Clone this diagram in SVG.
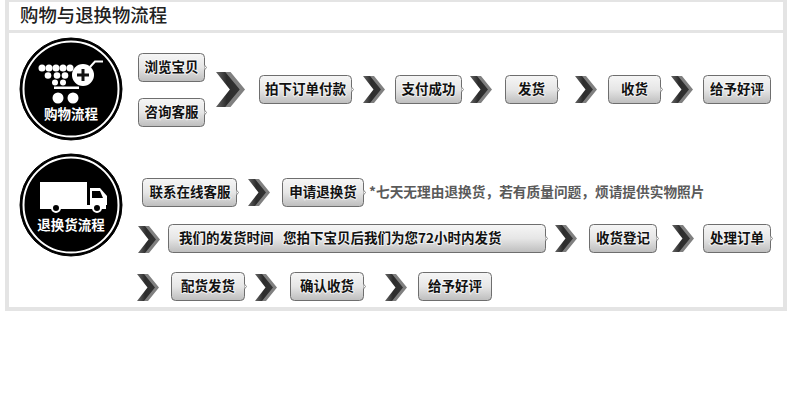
<svg xmlns="http://www.w3.org/2000/svg" xmlns:xlink="http://www.w3.org/1999/xlink" width="790" height="418" viewBox="0 0 790 418">
<style>
text{font-family:"Noto Sans CJK SC","Liberation Sans",sans-serif}
.btn{fill:url(#bg);stroke:#6e6e6e;stroke-width:1}
.tip{fill:#fff;stroke:#8a8a8a;stroke-width:1}
.lb{font-size:13.5px;font-weight:700;fill:#111;text-anchor:middle;paint-order:stroke;stroke:#fff;stroke-opacity:.55;stroke-width:2px}
.wh{font-size:13.5px;font-weight:700;fill:#fff;text-anchor:middle}
.note{font-size:13.7px;font-weight:700;fill:#5a5a5a}
.title{font-size:18.4px;font-weight:500;fill:#222}
</style>
<defs>
<linearGradient id="bg" x1="0" y1="0" x2="0" y2="1"><stop offset="0" stop-color="#f6f6f6"/><stop offset=".5" stop-color="#e6e6e6"/><stop offset="1" stop-color="#bdbdbd"/></linearGradient>
<linearGradient id="cg" x1="0" y1="0" x2="1" y2="0"><stop offset="0" stop-color="#666"/><stop offset=".45" stop-color="#2c2c2c"/><stop offset="1" stop-color="#333"/></linearGradient>
<g id="chev">
<polygon points="3,0 11,0 22,13.5 11,27 3,27 13.5,13.5" fill="#808080"/>
<polygon points="0,0 7,0 18,13.5 7,27 0,27 10.5,13.5" fill="url(#cg)"/>
</g>
</defs>
<rect width="790" height="418" fill="#fff"/>
<rect x="5" y="0" width="782" height="311" fill="#e4e4e4"/>
<rect x="9" y="2" width="774" height="28" fill="#fff"/>
<rect x="9" y="33" width="774" height="274" fill="#fff"/>
<text class="title" x="20" y="22">购物与退换物流程</text>

<g id="connectors">
<use xlink:href="#chev" href="#chev" transform="translate(216,72) scale(1.32,1.3)"/>
<use href="#chev" x="363" y="76"/>
<use href="#chev" x="470" y="76"/>
<use href="#chev" x="575" y="76"/>
<use href="#chev" x="671" y="76"/>
<use href="#chev" x="248" y="179"/>
<use href="#chev" x="138" y="226"/>
<use href="#chev" x="555" y="225"/>
<use href="#chev" x="672" y="225"/>
<use href="#chev" x="137" y="274"/>
<use href="#chev" x="255" y="274"/>
<use href="#chev" x="385" y="274"/>
</g>

<g id="shop-circle">
<circle cx="71" cy="89" r="51" fill="#000" stroke="#000" stroke-width="1"/>
<circle cx="71" cy="89" r="47.500" fill="none" stroke="#fff" stroke-width="2"/>
<g fill="#fff">
<circle cx="42" cy="68" r="3.500"/><circle cx="49" cy="68" r="3.500"/><circle cx="56" cy="68" r="3.500"/><circle cx="63" cy="68" r="3.500"/><circle cx="70" cy="68" r="3.500"/>
<circle cx="48" cy="75.500" r="3.300"/><circle cx="57" cy="75.500" r="3.300"/><circle cx="65" cy="75.500" r="3.300"/>
<circle cx="55" cy="82.500" r="3"/><circle cx="63" cy="82.500" r="3"/>
<rect x="54" y="86.500" width="25" height="2.500"/>
<circle cx="58" cy="98" r="5.500"/><circle cx="73" cy="98" r="5.500"/>
<circle cx="83" cy="75" r="11"/>
</g>
<path d="M90 67L95 61.500H103" fill="none" stroke="#fff" stroke-width="2"/>
<path d="M77 75H89M83 69V81" stroke="#111" stroke-width="3"/>
<text class="wh" x="71" y="119">购物流程</text>
</g>

<g id="return-circle">
<circle cx="71" cy="205" r="51" fill="#000" stroke="#000" stroke-width="1"/>
<circle cx="71" cy="205" r="47.500" fill="none" stroke="#fff" stroke-width="2"/>
<rect x="40" y="182" width="47" height="23" fill="#fff"/>
<rect x="40" y="205" width="66" height="4" fill="#fff"/>
<path d="M90 188H100L107 196V205H90Z" fill="#fff"/>
<path d="M92 191H100L103 198H92Z" fill="#000"/>
<circle cx="56" cy="208" r="4" fill="#000" stroke="#fff" stroke-width="2"/>
<circle cx="97" cy="208" r="4" fill="#000" stroke="#fff" stroke-width="2"/>
<text class="wh" x="71" y="230">退换货流程</text>
</g>

<g id="n1"><rect class="btn" x="138.500" y="53.500" width="66" height="28" rx="4"/><path class="tip" d="M204.500 65l2 2.500-2 2.500"/><text class="lb" x="171.500" y="72">浏览宝贝</text></g>
<g id="n2"><rect class="btn" x="138.500" y="98.500" width="66" height="28" rx="4"/><path class="tip" d="M204.500 110l2 2.500-2 2.500"/><text class="lb" x="171.500" y="117">咨询客服</text></g>
<g id="n3"><rect class="btn" x="259.500" y="75.500" width="92" height="28" rx="4"/><path class="tip" d="M351.500 87l2 2.500-2 2.500"/><text class="lb" x="305.500" y="94">拍下订单付款</text></g>
<g id="n4"><rect class="btn" x="395.500" y="75.500" width="66" height="28" rx="4"/><path class="tip" d="M461.500 87l2 2.500-2 2.500"/><text class="lb" x="428.500" y="94">支付成功</text></g>
<g id="n5"><rect class="btn" x="505.500" y="75.500" width="52" height="28" rx="4"/><path class="tip" d="M557.500 87l2 2.500-2 2.500"/><text class="lb" x="531.500" y="94">发货</text></g>
<g id="n6"><rect class="btn" x="608.500" y="75.500" width="52" height="28" rx="4"/><path class="tip" d="M660.500 87l2 2.500-2 2.500"/><text class="lb" x="634.500" y="94">收货</text></g>
<g id="n7"><rect class="btn" x="703.500" y="75.500" width="67" height="28" rx="4"/><text class="lb" x="737" y="94">给予好评</text></g>

<g id="n8"><rect class="btn" x="142.500" y="178.500" width="94" height="28" rx="4"/><path class="tip" d="M236.500 190l2 2.500-2 2.500"/><text class="lb" x="190" y="197">联系在线客服</text></g>
<g id="n9"><rect class="btn" x="282.500" y="178.500" width="81" height="28" rx="4"/><path class="tip" d="M363.500 190l2 2.500-2 2.500"/><text class="lb" x="323" y="197">申请退换货</text></g>
<text class="note" x="369" y="197">*七天无理由退换货，若有质量问题，烦请提供实物照片</text>

<g id="n10"><rect class="btn" x="168.500" y="224.500" width="377" height="28" rx="4"/><path class="tip" d="M545.500 236l2 2.500-2 2.500"/><text class="lb" style="text-anchor:start"><tspan x="179" y="243">我们的发货时间</tspan><tspan x="283" y="243">您拍下宝贝后我们为您72小时内发货</tspan></text></g>
<g id="n11"><rect class="btn" x="589.500" y="224.500" width="67" height="28" rx="4"/><path class="tip" d="M656.500 236l2 2.500-2 2.500"/><text class="lb" x="623" y="243">收货登记</text></g>
<g id="n12"><rect class="btn" x="703.500" y="224.500" width="67" height="28" rx="4"/><path class="tip" d="M770.500 236l2 2.500-2 2.500"/><text class="lb" x="737" y="243">处理订单</text></g>

<g id="n13"><rect class="btn" x="171.500" y="272.500" width="73" height="28" rx="4"/><path class="tip" d="M244.500 284l2 2.500-2 2.500"/><text class="lb" x="208" y="291">配货发货</text></g>
<g id="n14"><rect class="btn" x="290.500" y="272.500" width="73" height="28" rx="4"/><path class="tip" d="M363.500 284l2 2.500-2 2.500"/><text class="lb" x="327" y="291">确认收货</text></g>
<g id="n15"><rect class="btn" x="418.500" y="272.500" width="73" height="28" rx="4"/><text class="lb" x="455" y="291">给予好评</text></g>
</svg>
